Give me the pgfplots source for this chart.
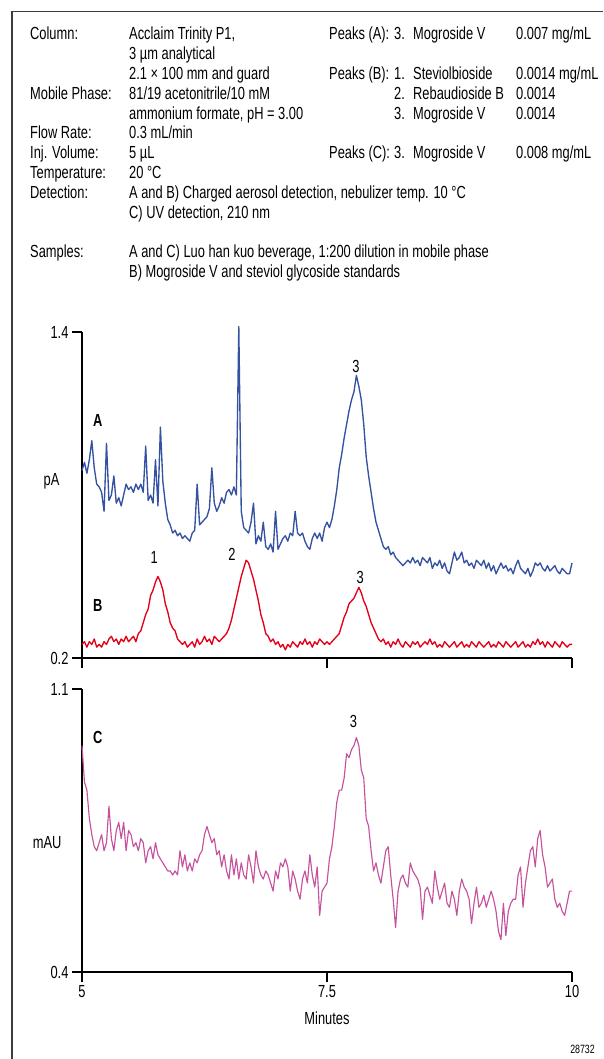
\documentclass[border=0pt]{standalone}
\usepackage{fontspec}
\setmainfont{Liberation Sans}[FakeStretch=0.735]
\usepackage{pgfplots}
\pgfplotsset{compat=1.18}
\usepackage{pgfplotstable}

\definecolor{traceA}{RGB}{52,82,160}
\definecolor{traceB}{RGB}{226,0,26}
\definecolor{traceC}{RGB}{196,82,156}
\definecolor{framegray}{RGB}{60,60,60}

% retention time (min), A = beverage CAD (pA), B = standards CAD (pA), C = beverage UV (mAU)
\pgfplotstableread{
x a b c
5.000 0.89 0.25 0.96
5.025 0.92 0.26 0.87
5.050 0.88 0.24 0.85
5.075 0.93 0.26 0.78
5.100 1.00 0.25 0.74
5.125 0.90 0.27 0.71
5.150 0.84 0.24 0.70
5.175 0.83 0.25 0.72
5.200 0.81 0.24 0.74
5.225 0.74 0.26 0.70
5.250 0.99 0.25 0.72
5.275 0.78 0.27 0.81
5.300 0.80 0.28 0.73
5.325 0.87 0.26 0.70
5.350 0.77 0.27 0.75
5.375 0.79 0.25 0.77
5.400 0.76 0.27 0.73
5.425 0.80 0.26 0.77
5.450 0.84 0.28 0.70
5.475 0.82 0.26 0.75
5.500 0.83 0.27 0.74
5.525 0.81 0.28 0.71
5.550 0.84 0.26 0.72
5.575 0.82 0.29 0.70
5.600 0.84 0.30 0.73
5.625 0.81 0.33 0.72
5.650 0.98 0.36 0.67
5.675 0.78 0.38 0.70
5.700 0.80 0.43 0.71
5.725 0.77 0.45 0.68
5.750 0.93 0.48 0.72
5.775 0.76 0.50 0.69
5.800 1.05 0.48 0.68
5.825 0.85 0.45 0.67
5.850 0.77 0.40 0.66
5.875 0.71 0.37 0.65
5.900 0.69 0.33 0.65
5.925 0.66 0.31 0.64
5.950 0.67 0.30 0.65
5.975 0.65 0.27 0.64
6.000 0.66 0.26 0.70
6.025 0.64 0.25 0.66
6.050 0.65 0.26 0.69
6.075 0.64 0.24 0.65
6.100 0.63 0.25 0.67
6.125 0.66 0.26 0.65
6.150 0.67 0.24 0.68
6.175 0.84 0.27 0.67
6.200 0.69 0.25 0.69
6.225 0.70 0.26 0.70
6.250 0.71 0.28 0.74
6.275 0.72 0.26 0.76
6.300 0.75 0.27 0.74
6.325 0.90 0.25 0.72
6.350 0.77 0.28 0.73
6.375 0.74 0.27 0.69
6.400 0.76 0.26 0.70
6.425 0.79 0.27 0.66
6.450 0.77 0.28 0.69
6.475 0.81 0.29 0.65
6.500 0.82 0.31 0.63
6.525 0.80 0.34 0.69
6.550 0.83 0.38 0.64
6.575 0.80 0.42 0.68
6.600 1.42 0.46 0.63
6.625 0.74 0.50 0.67
6.650 0.68 0.53 0.64
6.675 0.67 0.56 0.63
6.700 0.66 0.55 0.69
6.725 0.70 0.52 0.66
6.750 0.77 0.49 0.62
6.775 0.62 0.45 0.70
6.800 0.65 0.41 0.66
6.825 0.63 0.36 0.64
6.850 0.70 0.33 0.63
6.875 0.61 0.29 0.65
6.900 0.60 0.28 0.64
6.925 0.62 0.26 0.62
6.950 0.59 0.27 0.60
6.975 0.74 0.25 0.65
7.000 0.60 0.26 0.63
7.025 0.62 0.24 0.67
7.050 0.64 0.25 0.66
7.075 0.65 0.23 0.68
7.100 0.63 0.25 0.66
7.125 0.66 0.24 0.60
7.150 0.65 0.26 0.65
7.175 0.74 0.25 0.63
7.200 0.66 0.24 0.60
7.225 0.65 0.26 0.58
7.250 0.66 0.25 0.63
7.275 0.63 0.27 0.65
7.300 0.61 0.25 0.62
7.325 0.60 0.26 0.69
7.350 0.64 0.24 0.64
7.375 0.66 0.26 0.61
7.400 0.64 0.25 0.66
7.425 0.66 0.27 0.54
7.450 0.63 0.26 0.60
7.475 0.68 0.25 0.61
7.500 0.70 0.26 0.62
7.525 0.68 0.25 0.68
7.550 0.71 0.26 0.71
7.575 0.76 0.27 0.76
7.600 0.82 0.28 0.82
7.625 0.90 0.29 0.85
7.650 0.95 0.32 0.85
7.675 1.01 0.35 0.88
7.700 1.06 0.37 0.94
7.725 1.11 0.40 0.93
7.750 1.15 0.41 0.95
7.775 1.18 0.42 0.96
7.800 1.24 0.44 0.98
7.825 1.20 0.46 0.96
7.850 1.15 0.44 0.90
7.875 1.06 0.41 0.88
7.900 0.94 0.39 0.78
7.925 0.87 0.36 0.76
7.950 0.81 0.33 0.70
7.975 0.75 0.31 0.65
8.000 0.70 0.29 0.67
8.025 0.67 0.27 0.64
8.050 0.64 0.26 0.62
8.075 0.61 0.27 0.66
8.100 0.60 0.25 0.70
8.125 0.61 0.26 0.71
8.150 0.58 0.24 0.64
8.175 0.59 0.26 0.58
8.200 0.57 0.25 0.51
8.225 0.56 0.27 0.60
8.250 0.55 0.25 0.63
8.275 0.54 0.24 0.64
8.300 0.55 0.26 0.62
8.325 0.56 0.25 0.61
8.350 0.55 0.24 0.67
8.375 0.57 0.26 0.65
8.400 0.55 0.25 0.64
8.425 0.56 0.26 0.63
8.450 0.54 0.24 0.61
8.475 0.57 0.25 0.53
8.500 0.56 0.26 0.60
8.525 0.55 0.25 0.61
8.550 0.57 0.27 0.59
8.575 0.53 0.25 0.57
8.600 0.55 0.26 0.65
8.625 0.54 0.24 0.61
8.650 0.56 0.25 0.58
8.675 0.53 0.24 0.60
8.700 0.55 0.26 0.62
8.725 0.52 0.25 0.57
8.750 0.51 0.24 0.56
8.775 0.55 0.25 0.60
8.800 0.59 0.26 0.58
8.825 0.56 0.24 0.54
8.850 0.57 0.25 0.60
8.875 0.59 0.26 0.63
8.900 0.55 0.24 0.61
8.925 0.56 0.25 0.60
8.950 0.54 0.24 0.58
8.975 0.55 0.26 0.52
9.000 0.53 0.25 0.57
9.025 0.56 0.24 0.61
9.050 0.55 0.26 0.56
9.075 0.54 0.25 0.57
9.100 0.56 0.24 0.59
9.125 0.53 0.25 0.56
9.150 0.55 0.26 0.58
9.175 0.52 0.24 0.60
9.200 0.54 0.25 0.58
9.225 0.51 0.24 0.55
9.250 0.53 0.26 0.50
9.275 0.55 0.25 0.48
9.300 0.53 0.24 0.57
9.325 0.54 0.26 0.49
9.350 0.52 0.25 0.55
9.375 0.53 0.24 0.57
9.400 0.51 0.25 0.58
9.425 0.54 0.26 0.58
9.450 0.56 0.24 0.64
9.475 0.53 0.25 0.66
9.500 0.52 0.26 0.56
9.525 0.51 0.24 0.62
9.550 0.53 0.25 0.66
9.575 0.50 0.24 0.70
9.600 0.52 0.26 0.71
9.625 0.55 0.25 0.66
9.650 0.54 0.27 0.73
9.675 0.55 0.25 0.75
9.700 0.53 0.26 0.69
9.725 0.52 0.24 0.66
9.750 0.54 0.26 0.61
9.775 0.52 0.25 0.62
9.800 0.53 0.24 0.63
9.825 0.54 0.26 0.58
9.850 0.52 0.25 0.56
9.875 0.51 0.24 0.57
9.900 0.53 0.26 0.55
9.925 0.52 0.25 0.54
9.950 0.51 0.24 0.57
9.975 0.51 0.25 0.60
10.000 0.55 0.25 0.60
}\chrom

\pgfplotsset{
  chrom/.style={
    scale only axis, width=490pt, xmin=5, xmax=10,
    axis lines=left, axis line style={-, line width=1.2pt, black},
    tick style={line width=1.2pt, black}, tick align=outside,
    major tick length=10pt, xtick={5,7.5,10},
    clip=false,
    /pgf/number format/assume math mode=true,
    tick label style={font=\fontsize{17.5}{19}\selectfont},
    every axis plot/.append style={line width=1.35pt, line join=round},
  },
}

\newcommand{\txt}{\fontsize{17.5}{19.8}\selectfont}

\begin{document}
\begin{tikzpicture}[x=1pt,y=1pt]
\useasboundingbox (0,0) rectangle (603,-1059);
\draw[framegray, line width=1.5pt] (12,-1059) -- (12,-11.7) -- (603,-11.7);

\begin{scope}[every node/.style={anchor=base west, inner sep=0pt, font=\txt}]
% left block
\node at (30,-40.0) {Column:};
\node at (129,-40.0) {Acclaim Trinity P1,};
\node at (129,-59.8) {3 µm analytical};
\node at (129,-79.6) {2.1 × 100 mm and guard};
\node at (30,-99.4) {Mobile Phase:};
\node at (129,-99.4) {81/19 acetonitrile/10 mM};
\node at (129,-119.2) {ammonium formate, pH = 3.00};
\node at (30,-139.0) {Flow Rate:};
\node at (129,-139.0) {0.3 mL/min};
\node at (30,-158.8) {Inj. Volume:};
\node at (129,-158.8) {5 µL};
\node at (30,-178.6) {Temperature:};
\node at (129,-178.6) {20 °C};
\node at (30,-198.4) {Detection:};
\node at (129,-198.4) {A and B) Charged aerosol detection, nebulizer temp. 10 °C};
\node at (129,-218.2) {C) UV detection, 210 nm};
\node at (30,-257.8) {Samples:};
\node at (129,-257.8) {A and C) Luo han kuo beverage, 1:200 dilution in mobile phase};
\node at (129,-277.6) {B) Mogroside V and steviol glycoside standards};
% peaks block
\node at (329,-40.0) {Peaks (A):};
\node at (394,-40.0) {3.};
\node at (413,-40.0) {Mogroside V};
\node at (516,-40.0) {0.007 mg/mL};
\node at (329,-79.6) {Peaks (B):};
\node at (394,-79.6) {1.};
\node at (413,-79.6) {Steviolbioside};
\node at (516,-79.6) {0.0014 mg/mL};
\node at (394,-99.4) {2.};
\node at (413,-99.4) {Rebaudioside B};
\node at (516,-99.4) {0.0014};
\node at (394,-119.2) {3.};
\node at (413,-119.2) {Mogroside V};
\node at (516,-119.2) {0.0014};
\node at (329,-158.8) {Peaks (C):};
\node at (394,-158.8) {3.};
\node at (413,-158.8) {Mogroside V};
\node at (516,-158.8) {0.008 mg/mL};
\end{scope}

% charged aerosol detection, traces A and B
\begin{axis}[chrom, at={(82pt,-658pt)}, anchor=south west, height=326pt,
    ymin=0.2, ymax=1.4, ytick={0.2,1.4}, xticklabels={}]
  \addplot[traceA] table[x=x, y=a] {\chrom};
  \addplot[traceB] table[x=x, y=b] {\chrom};
  \node[font=\txt, anchor=east] at (axis cs:5,0.85) [xshift=-19pt] {pA};
  \node[font=\txt\bfseries] at (axis cs:5.16,1.075) {A};
  \node[font=\txt\bfseries] at (axis cs:5.16,0.394) {B};
  \node[font=\txt] at (axis cs:7.795,1.272) {3};
  \node[font=\txt] at (axis cs:5.736,0.571) {1};
  \node[font=\txt] at (axis cs:6.53,0.583) {2};
  \node[font=\txt] at (axis cs:7.84,0.497) {3};
\end{axis}

% UV detection, trace C
\begin{axis}[chrom, at={(82pt,-972pt)}, anchor=south west, height=283pt,
    ymin=0.4, ymax=1.1, ytick={0.4,1.1}]
  \addplot[traceC, line width=1.15pt] table[x=x, y=c] {\chrom};
  \node[font=\txt, anchor=east] at (axis cs:5,0.72) [xshift=-17pt] {mAU};
  \node[font=\txt\bfseries] at (axis cs:5.16,0.98) {C};
  \node[font=\txt] at (axis cs:7.77,1.019) {3};
  \node[font=\txt] at (axis description cs:0.5,0) [yshift=-46pt] {Minutes};
\end{axis}

\node[font=\fontsize{12}{13}\selectfont, anchor=east, inner sep=0pt] at (595,-1049) {28732};
\end{tikzpicture}
\end{document}
